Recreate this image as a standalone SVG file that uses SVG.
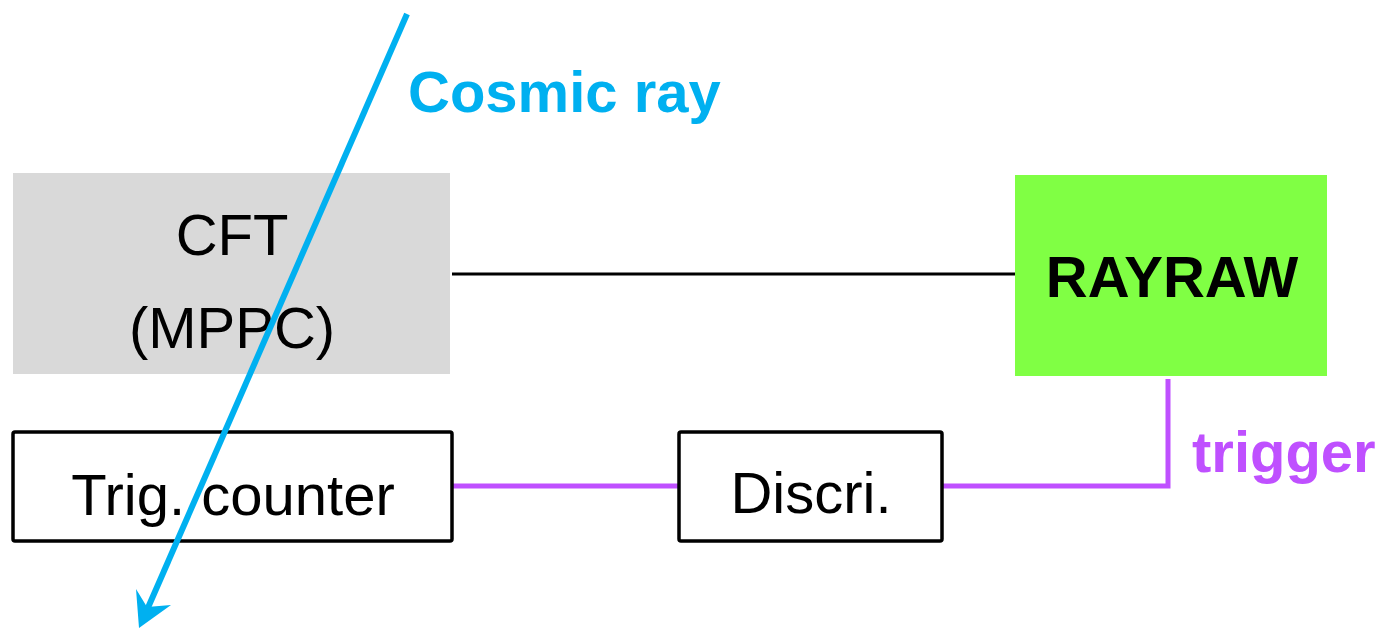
<svg xmlns="http://www.w3.org/2000/svg" width="1386" height="628" viewBox="0 0 1386 628">
<style>
.t{font-family:"Liberation Sans",Arial,sans-serif;font-size:58px;fill:#000;text-anchor:middle}
.b{font-weight:bold}
.box{fill:#fff;stroke:#000;stroke-width:3.5}
</style>
<rect width="1386" height="628" fill="#fff"/>
<g id="connectors">
<line x1="452" y1="274" x2="1015" y2="274" stroke="#000" stroke-width="3"/>
<line x1="452" y1="486" x2="678" y2="486" stroke="#BF50FF" stroke-width="5"/>
<polyline points="943,486 1168,486 1168,379" fill="none" stroke="#BF50FF" stroke-width="5"/>
</g>
<g id="cft">
<rect x="13" y="173" width="437" height="201" fill="#D9D9D9"/>
<text class="t" x="232" y="255">CFT</text>
<text class="t" x="232" y="348">(MPPC)</text>
</g>
<g id="rayraw">
<rect x="1015" y="175" width="312" height="201" fill="#80FF44"/>
<text class="t b" x="1172" y="297">RAYRAW</text>
</g>
<g id="trig">
<rect class="box" x="13" y="432" width="439" height="109" rx="2"/>
<text class="t" x="233" y="515">Trig. counter</text>
</g>
<g id="discri">
<rect class="box" x="679" y="432" width="263" height="109" rx="2"/>
<text class="t" x="811" y="513">Discri.</text>
</g>
<g id="trigger-label">
<text class="t b" x="1192" y="472" style="text-anchor:start;fill:#BF50FF">trigger</text>
</g>
<g id="cosmic">
<line x1="407" y1="14" x2="147" y2="610" stroke="#00B0F0" stroke-width="6"/>
<polygon points="139,628 136,589 147,607 171,605" fill="#00B0F0"/>
<text class="t b" x="408" y="112" style="text-anchor:start;fill:#00B0F0">Cosmic ray</text>
</g>
</svg>
